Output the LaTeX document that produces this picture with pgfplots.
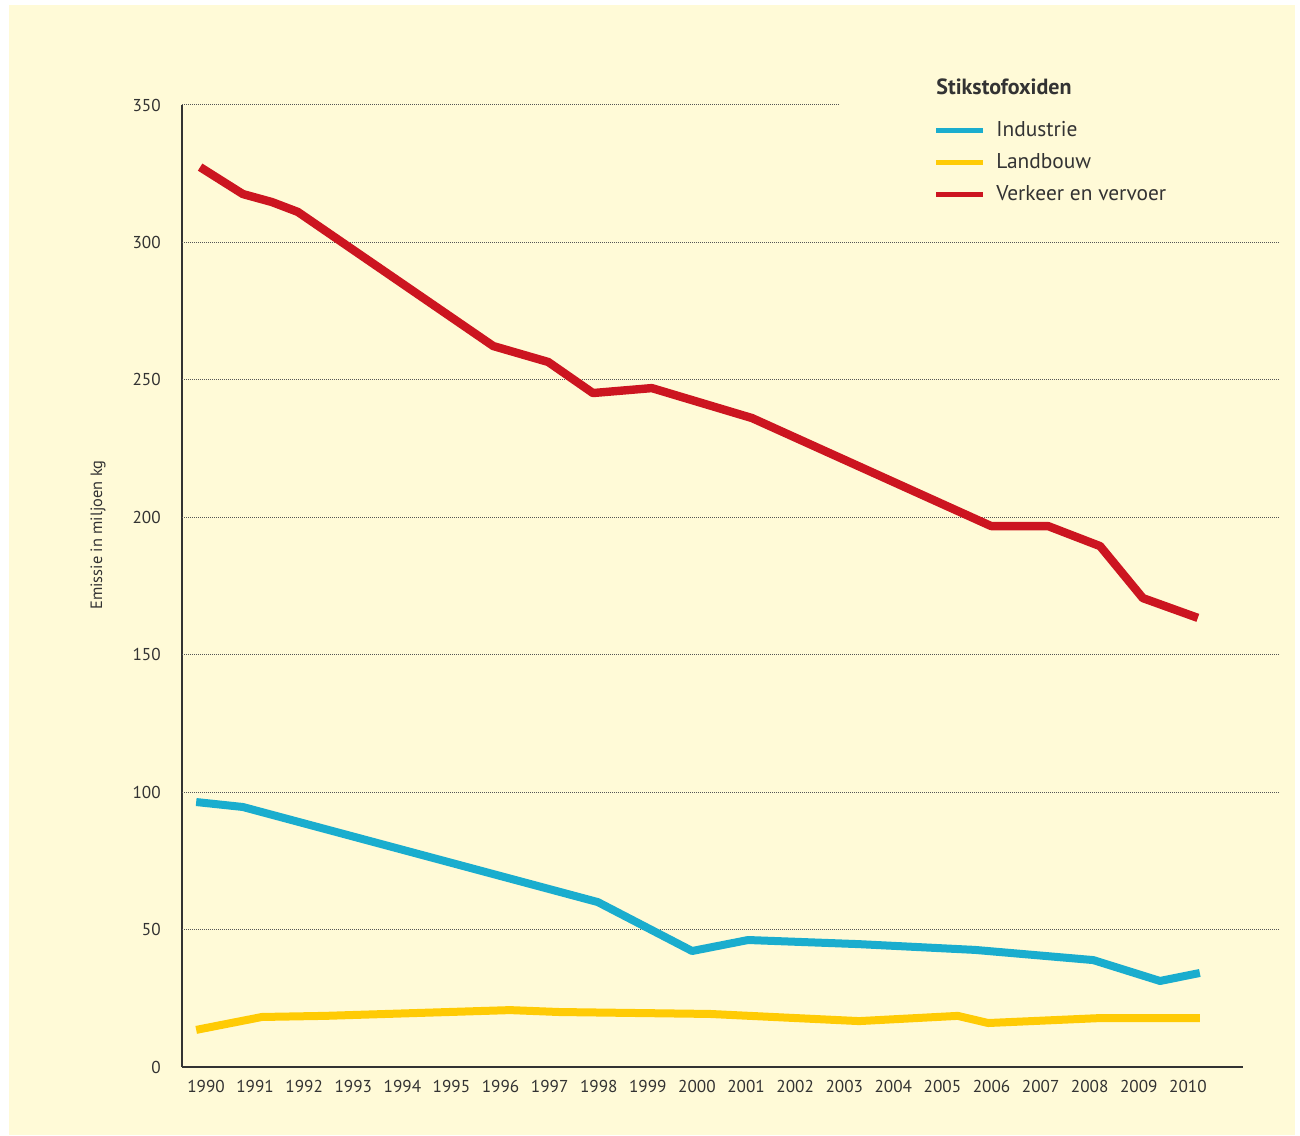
\documentclass[border=0pt]{standalone}
\usepackage{pgfplots}
\pgfplotsset{compat=1.18}
\usepackage{fontspec}
\setmainfont{PT Sans}
\definecolor{bg}{HTML}{FFFAD7}
\definecolor{cred}{HTML}{CC1520}
\definecolor{cblue}{HTML}{1AADCE}
\definecolor{cyel}{HTML}{FFCB05}
\definecolor{txt}{HTML}{333333}
\definecolor{gridc}{HTML}{555555}
\begin{document}
\begin{tikzpicture}
\fill[white] (0,0) rectangle (650pt,567.5pt);
\fill[bg] (4.5pt,0) rectangle (647.5pt,565pt);
\begin{axis}[
  at={(91pt,34pt)}, anchor=origin,
  scale only axis, width=530.5pt, height=481pt,
  xmin=1989.511, xmax=2011.12, ymin=0, ymax=350,
  axis lines=left, axis line style={-, draw=txt, line width=0.7pt},
  xtick={1990,...,2010}, ytick={0,50,...,350},
  xticklabel={\pgfmathprintnumber[1000 sep={}]{\tick}},
  tick style={draw=none},
  ticklabel style={font=\fontsize{8.6}{10}\selectfont, text=txt},
  /pgf/number format/assume math mode=true,
  xticklabel style={yshift=-1pt},
  yticklabel style={xshift=-5pt},
  ylabel={Emissie in miljoen kg},
  ylabel style={font=\fontsize{8.2}{9}\selectfont, text=txt, at={(axis description cs:-0.0792,0.553)}, anchor=center},
  clip=false,
  line join=round,
]
\foreach \yy in {50,100,...,300}{
  \edef\tmp{\noexpand\draw[gridc, line width=0.5pt, dash pattern=on 0.5pt off 0.5pt] (axis cs:1989.511,\yy) -- (axis cs:2011.84,\yy);}
  \tmp
}
\draw[gridc, line width=0.5pt, dash pattern=on 0.5pt off 0.5pt] (axis cs:1989.511,350) -- (axis cs:2002.9,350);
\addplot[cyel, line width=4pt, mark=none] coordinates {
(1989.80,13.5) (1991.14,18.2) (1992.42,18.6) (1996.19,20.7) (1997.20,20.0)
(2000.26,19.3) (2003.30,16.7) (2005.31,18.6) (2005.93,16.0) (2008.21,17.8) (2010.24,17.8)};
\addplot[cblue, line width=4pt, mark=none] coordinates {
(1989.80,96.4) (1990.75,94.6) (1997.98,60.0) (1999.90,42.2) (2001.04,46.2)
(2003.30,44.7) (2005.66,42.6) (2008.07,38.9) (2009.43,31.3) (2010.24,34.2)};
\addplot[cred, line width=4.2pt, mark=none] coordinates {
(1989.88,327.4) (1990.75,317.6) (1991.34,314.7) (1991.87,311.1) (1995.85,262.3)
(1996.97,256.5) (1997.88,245.2) (1999.08,247.0) (2001.12,236.1) (2005.99,196.8)
(2007.15,196.8) (2008.21,189.5) (2009.08,170.6) (2010.20,163.4)};
\end{axis}
% legend
\node[anchor=west, text=txt, font=\fontsize{11}{13}\selectfont\bfseries, inner sep=0pt] at (468pt,524pt) {Stikstofoxiden};
\draw[cblue, line width=2.5pt] (468pt,502pt) -- (491.5pt,502pt);
\node[anchor=west, text=txt, font=\fontsize{10.7}{13}\selectfont, inner sep=0pt] at (498pt,503pt) {Industrie};
\draw[cyel, line width=2.5pt] (468pt,486pt) -- (491.5pt,486pt);
\node[anchor=west, text=txt, font=\fontsize{10.7}{13}\selectfont, inner sep=0pt] at (498pt,487pt) {Landbouw};
\draw[cred, line width=2.5pt] (468pt,470pt) -- (491.5pt,470pt);
\node[anchor=west, text=txt, font=\fontsize{10.7}{13}\selectfont, inner sep=0pt] at (498pt,471pt) {Verkeer en vervoer};
\end{tikzpicture}
\end{document}
